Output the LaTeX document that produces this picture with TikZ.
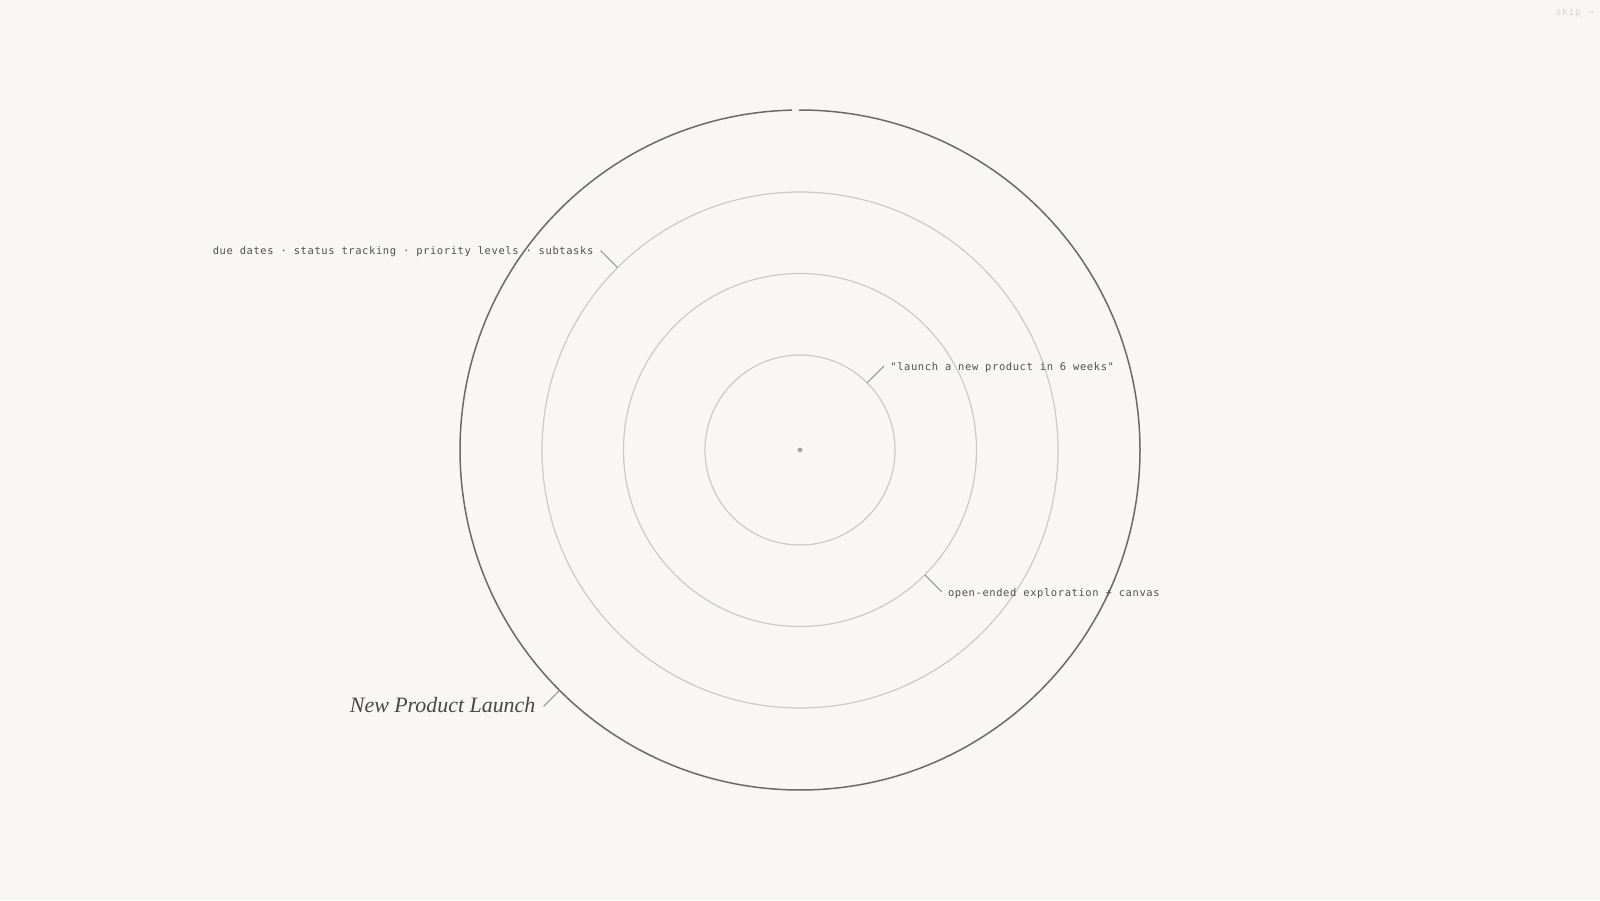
\documentclass[tikz,border=0pt]{standalone}
\usepackage{fontspec}
\setmainfont{Liberation Serif}
\newfontfamily\monofont[LetterSpace=5.8]{DejaVu Sans Mono}
\definecolor{bgc}{HTML}{F8F7F4}
\definecolor{ringdark}{HTML}{6A6A6A}
\definecolor{ringlight}{HTML}{CACAC8}
\definecolor{tickc}{HTML}{8A8A8A}
\definecolor{txtc}{HTML}{505050}
\definecolor{skipc}{HTML}{D6D6D4}
\begin{document}
\begin{tikzpicture}[x=1bp,y=-1bp,
  ring/.style={circle,draw=ringlight,line width=1.2bp,inner sep=0pt,outer sep=0pt},
  tick/.style={draw=tickc,line width=1bp},
  lab/.style={font=\monofont\fontsize{10.5}{12}\selectfont,text=txtc,inner sep=0pt},
  titlelab/.style={font=\itshape\fontsize{22}{26}\selectfont,text=txtc!90!black,inner sep=0pt}]
\fill[bgc] (0,0) rectangle (1600,900);
\useasboundingbox (0,0) rectangle (1600,900);
\coordinate (ctr) at (800,450);
% rings
\node[ring,minimum size=190bp] (r1) at (ctr) {};
\node[ring,minimum size=353bp] (r2) at (ctr) {};
\node[ring,minimum size=516bp] (r3) at (ctr) {};
\node[circle,minimum size=680bp,inner sep=0pt,outer sep=0pt] (r4) at (ctr) {};
\draw[ringdark,line width=1.5bp] (ctr) ++(269.83:340) arc[start angle=269.83,end angle=628.65,radius=340];
\fill[black!35] (ctr) circle[radius=2.4];
% ticks
\coordinate (e1) at ([shift={(17,-17)}]r1.45);
\coordinate (e2) at ([shift={(17,17)}]r2.-45);
\coordinate (e3) at ([shift={(-17,-17)}]r3.135);
\coordinate (e4) at ([shift={(-16,16)}]r4.-135);
\draw[tick] (r1.45) -- (e1);
\draw[tick] (r2.-45) -- (e2);
\draw[tick] (r3.135) -- (e3);
\draw[tick] (r4.-135) -- (e4);
% labels
\node[lab,anchor=west] (l1) at ([shift={(6,2)}]e1) {"launch a new product in 6 weeks"};
\node[lab,anchor=west] (l2) at ([shift={(6,2)}]e2) {open-ended exploration + canvas};
\node[lab,anchor=east] (l3) at ([shift={(-7,1)}]e3) {due dates · status tracking · priority levels · subtasks};
\node[titlelab,anchor=east] (l4) at ([shift={(-8,-1)}]e4) {New Product Launch};
\node[font=\monofont\fontsize{10}{12}\selectfont,text=skipc,anchor=east,inner sep=0pt] (skip) at (1594,13) {skip →};
\end{tikzpicture}
\end{document}
